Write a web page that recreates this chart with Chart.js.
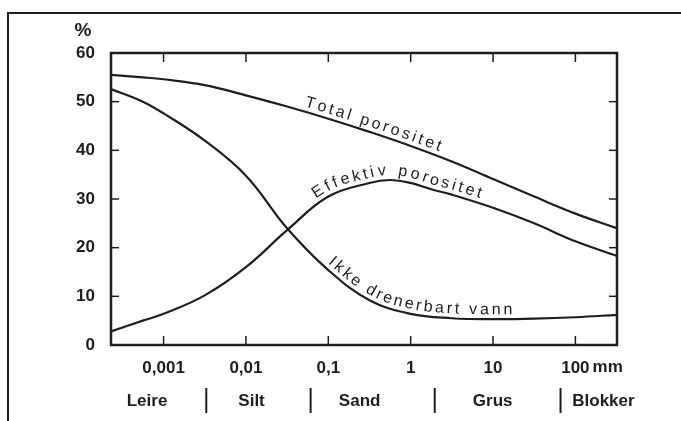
<!DOCTYPE html>
<html>
<head>
<meta charset="utf-8">
<script src="https://cdn.jsdelivr.net/npm/chart.js@4.4.1/dist/chart.umd.min.js"></script>
<style>
  html, body { margin: 0; padding: 0; background: #fff; }
  #wrap { position: relative; width: 681px; height: 421px; }
</style>
</head>
<body>
<div id="wrap"><canvas id="chart"></canvas></div>
<script>
// grain size (mm) and percent
const totalSize = [0.00023, 0.00056, 0.001, 0.00316, 0.01, 0.0316, 0.1, 0.316, 1, 3.16, 10, 31.6, 100, 320];
const totalPct  = [55.5, 55.0, 54.6, 53.4, 51.3, 49.0, 46.5, 43.8, 40.9, 37.7, 34.1, 30.5, 27.0, 24.0];

const effSize = [0.00023, 0.00056, 0.001, 0.00316, 0.01, 0.0316, 0.1, 0.316, 0.56, 1, 1.78, 3.16, 10, 31.6, 100, 320];
const effPct  = [2.8, 5.0, 6.4, 10.2, 16.0, 23.6, 30.5, 33.3, 33.9, 33.3, 32.0, 30.9, 28.2, 25.0, 21.3, 18.3];

const ikkeSize = [0.00023, 0.00056, 0.001, 0.00316, 0.01, 0.0316, 0.1, 0.316, 1, 3.16, 10, 31.6, 100, 320];
const ikkePct  = [52.6, 50.0, 47.6, 42.0, 34.8, 24.0, 15.4, 9.2, 6.4, 5.5, 5.3, 5.4, 5.7, 6.2];

const sizeTicks = [0.001, 0.01, 0.1, 1, 10, 100];
const pctTicks = [0, 10, 20, 30, 40, 50, 60];

const classNames = ['Leire', 'Silt', 'Sand', 'Grus', 'Blokker'];
const classBounds = [0.0033, 0.061, 1.96, 66];
const classLabelAt = [0.00063, 0.0117, 0.24, 9.9, 219];

const curveNames = ['Total porositet', 'Effektiv porositet', 'Ikke drenerbart vann'];
const curveLabelFrom = [0.049, 0.076, 0.09];

const INK = '#1e1e1e';
const FONT = '"Liberation Sans", Arial, sans-serif';

function toPoints(xs, ys) {
  return xs.map((v, i) => ({ x: v, y: ys[i] }));
}

// dense polyline following the drawn spline of a dataset
function curvePath(meta) {
  const pts = meta.data;
  const out = [];
  for (let i = 0; i < pts.length - 1; i++) {
    const p = pts[i], q = pts[i + 1];
    const ax = p.cp2x ?? p.x, ay = p.cp2y ?? p.y;
    const bx = q.cp1x ?? q.x, by = q.cp1y ?? q.y;
    for (let k = 0; k < 24; k++) {
      const t = k / 24, s = 1 - t;
      out.push({
        x: s*s*s*p.x + 3*s*s*t*ax + 3*s*t*t*bx + t*t*t*q.x,
        y: s*s*s*p.y + 3*s*s*t*ay + 3*s*t*t*by + t*t*t*q.y
      });
    }
  }
  const last = pts[pts.length - 1];
  out.push({ x: last.x, y: last.y });
  return out;
}

function textOnCurve(ctx, path, text, startPx, lift, gap) {
  const cum = [0];
  for (let i = 1; i < path.length; i++) {
    cum.push(cum[i - 1] + Math.hypot(path[i].x - path[i - 1].x, path[i].y - path[i - 1].y));
  }
  const pos = d => {
    d = Math.max(0, Math.min(cum[cum.length - 1], d));
    let i = 1;
    while (i < cum.length - 1 && cum[i] < d) i++;
    const f = (d - cum[i - 1]) / ((cum[i] - cum[i - 1]) || 1);
    return {
      x: path[i - 1].x + f * (path[i].x - path[i - 1].x),
      y: path[i - 1].y + f * (path[i].y - path[i - 1].y)
    };
  };
  let s = 0;
  for (let i = 1; i < path.length; i++) {
    if (path[i].x >= startPx) {
      const f = (startPx - path[i - 1].x) / ((path[i].x - path[i - 1].x) || 1);
      s = cum[i - 1] + f * (cum[i] - cum[i - 1]);
      break;
    }
  }
  for (const ch of text) {
    const w = ctx.measureText(ch).width;
    const m = pos(s + w / 2);
    const a = pos(s + w / 2 - 5), b = pos(s + w / 2 + 5);
    ctx.save();
    ctx.translate(m.x, m.y);
    ctx.rotate(Math.atan2(b.y - a.y, b.x - a.x));
    ctx.fillText(ch, -w / 2, -lift);
    ctx.restore();
    s += w + gap;
  }
}

const decorations = {
  id: 'decorations',
  afterDraw(chart) {
    const { ctx, chartArea: a } = chart;
    const x = chart.scales.x, y = chart.scales.y;
    const seg = (x1, y1, x2, y2) => { ctx.beginPath(); ctx.moveTo(x1, y1); ctx.lineTo(x2, y2); ctx.stroke(); };

    ctx.save();
    ctx.strokeStyle = INK;
    ctx.fillStyle = INK;

    // figure border (top + left)
    ctx.lineWidth = 2;
    ctx.beginPath();
    ctx.moveTo(8, 421); ctx.lineTo(8, 13); ctx.lineTo(681, 13);
    ctx.stroke();

    // plot box
    ctx.lineWidth = 2.5;
    ctx.strokeRect(a.left, a.top, a.right - a.left, a.bottom - a.top);

    // inward ticks
    ctx.lineWidth = 1.5;
    sizeTicks.forEach(v => {
      const px = x.getPixelForValue(v);
      seg(px, a.bottom, px, a.bottom - 9);
      seg(px, a.top, px, a.top + 9);
    });
    pctTicks.forEach(v => {
      const py = y.getPixelForValue(v);
      seg(a.left, py, a.left + 8, py);
      seg(a.right, py, a.right - 8, py);
    });

    // unit after the last size tick
    ctx.font = 'bold 17px ' + FONT;
    ctx.textAlign = 'left';
    ctx.textBaseline = 'middle';
    const p100 = x.getPixelForValue(100);
    ctx.fillText('mm', p100 + ctx.measureText('100').width / 2 + 3, 367);

    // % over the y axis
    ctx.font = 'bold 19px ' + FONT;
    ctx.textAlign = 'center';
    ctx.fillText('%', 83, 31);

    // grain classes row
    ctx.font = 'bold 17px ' + FONT;
    classNames.forEach((n, i) => ctx.fillText(n, x.getPixelForValue(classLabelAt[i]), 401));
    ctx.lineWidth = 2;
    classBounds.forEach(v => {
      const px = x.getPixelForValue(v);
      seg(px, 388, px, 413);
    });

    // curve names written along the curves
    ctx.font = '16px ' + FONT;
    ctx.textAlign = 'left';
    ctx.textBaseline = 'alphabetic';
    curveNames.forEach((n, i) => {
      const path = curvePath(chart.getDatasetMeta(i));
      textOnCurve(ctx, path, n, x.getPixelForValue(curveLabelFrom[i]), 5, 2.9);
    });
    ctx.restore();
  }
};

const line = (label, data) => ({
  label: label,
  data: data,
  borderColor: INK,
  borderWidth: 2.2,
  pointRadius: 0,
  fill: false,
  tension: 0.4
});

new Chart(document.getElementById('chart'), {
  type: 'line',
  data: {
    datasets: [
      line(curveNames[0], toPoints(totalSize, totalPct)),
      line(curveNames[1], toPoints(effSize, effPct)),
      line(curveNames[2], toPoints(ikkeSize, ikkePct))
    ]
  },
  options: {
    responsive: true,
    maintainAspectRatio: false,
    animation: false,
    layout: { padding: { top: 53, right: 64, left: 0, bottom: 0 } },
    plugins: {
      legend: { display: false },
      tooltip: { enabled: false }
    },
    scales: {
      x: {
        type: 'logarithmic',
        min: 0.00023,
        max: 320,
        grid: { display: false, drawTicks: false },
        border: { display: false },
        afterBuildTicks: scale => { scale.ticks = sizeTicks.map(v => ({ value: v })); },
        afterFit: scale => { scale.height = 76; },
        ticks: {
          autoSkip: false,
          maxRotation: 0,
          padding: 13,
          color: INK,
          font: { family: FONT, size: 17, weight: 'bold' },
          callback: v => String(v).replace('.', ',')
        }
      },
      y: {
        min: 0,
        max: 60,
        grid: { display: false, drawTicks: false },
        border: { display: false },
        afterBuildTicks: scale => { scale.ticks = pctTicks.map(v => ({ value: v })); },
        afterFit: scale => { scale.width = 111; },
        ticks: {
          padding: 16,
          color: INK,
          font: { family: FONT, size: 17, weight: 'bold' }
        }
      }
    }
  },
  plugins: [decorations]
});
</script>
</body>
</html>
